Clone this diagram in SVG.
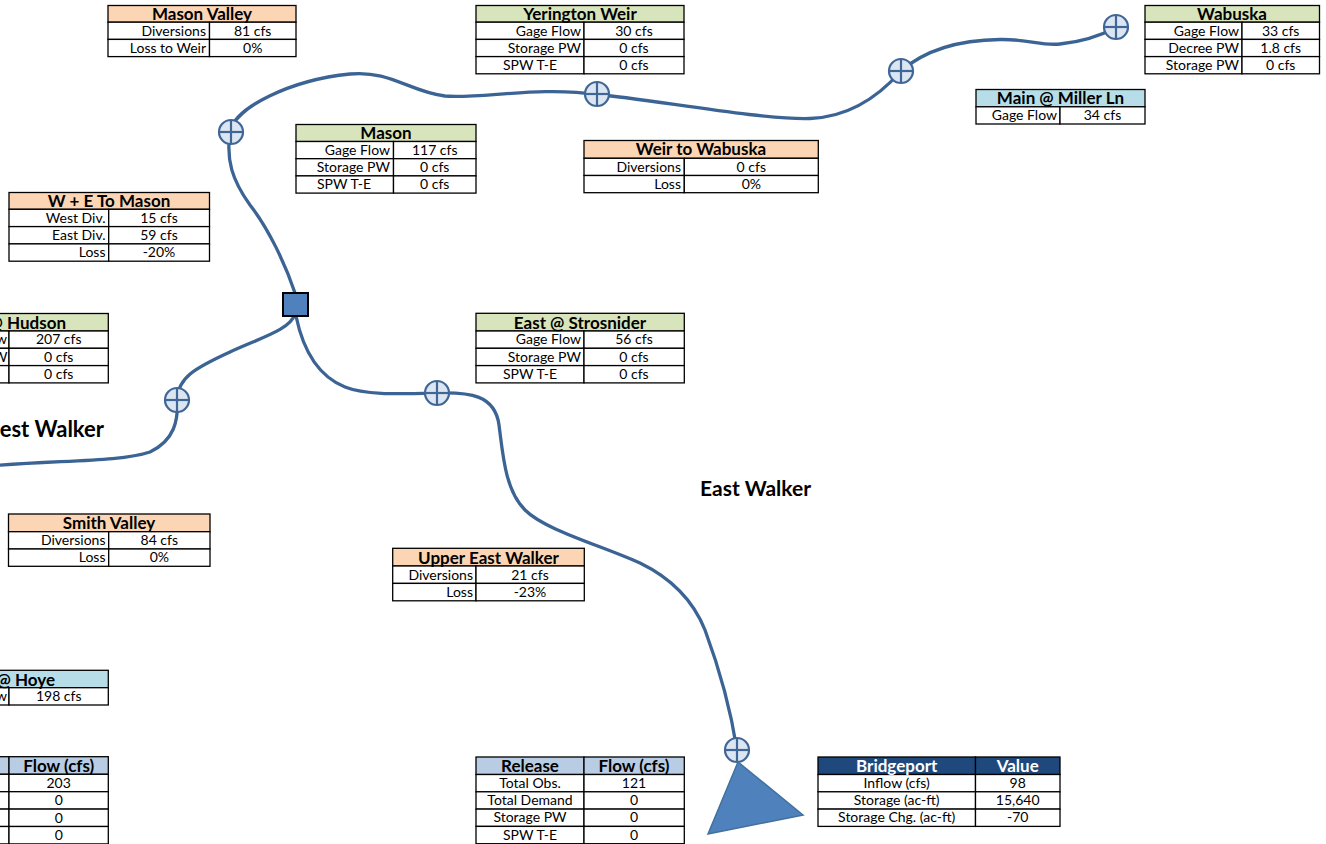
<svg xmlns="http://www.w3.org/2000/svg" width="1326" height="844" viewBox="0 0 1326 844">
<style>
rect{stroke:#000;stroke-width:1.3}
.w{fill:#fff}
.hp{fill:#FCD5B4}
.hg{fill:#D8E4BC}
.hc{fill:#B7DEE8}
.hb{fill:#B8CCE4}
.hd{fill:#1F497D}
text{font-family:Lato,"Liberation Sans",sans-serif;font-size:14px;fill:#000}
.h{font-weight:bold;font-size:17px;text-anchor:middle}
.hw{font-weight:bold;font-size:17px;text-anchor:middle;fill:#fff}
.l{text-anchor:end}
.c{text-anchor:middle}
.big{font-weight:bold;font-size:21px}
.river{fill:none;stroke:#3B6495;stroke-width:3.3;stroke-linecap:round}
</style>
<defs>
<g id="gagesym"><circle cx="0" cy="0" r="12" fill="#DCE6F2" stroke="#3F6696" stroke-width="2.2"/><line x1="-12" y1="0" x2="12" y2="0" stroke="#3F6696" stroke-width="2.2"/><line x1="0" y1="-12" x2="0" y2="12" stroke="#3F6696" stroke-width="2.2"/></g>
</defs>
<rect x="0" y="0" width="1326" height="844" style="fill:#fff;stroke:none"/>

<g id="connectors">
<path class="river" d="M 295 293 C 285 263, 268 228, 250 205 C 232 180, 226 160, 230 132 C 234 108, 290 80, 350 74 C 390 70, 410 92, 445 96 C 480 99, 540 86, 597 94.5 C 650 99, 760 120, 810 118.5 C 850 117, 880 95, 901 71 C 925 50, 960 40, 1000 39.5 C 1030 39, 1040 46, 1060 44 C 1080 42, 1100 36, 1117 27"/>
<path class="river" d="M 295 314 C 290 330, 260 338, 230 352 C 195 368, 177 378, 177.5 400 C 178 420, 175 440, 150 452 C 120 462, 60 460, -10 466"/>
<path class="river" d="M 296 316 C 302 345, 315 375, 345 387 C 365 395, 395 394, 437 393 C 470 392, 495 395, 499 425 C 503 455, 505 490, 525 510 C 545 530, 600 545, 640 563 C 675 580, 695 605, 705 630 C 718 665, 730 705, 737 750"/>
</g>

<g id="gages">
<use href="#gagesym" x="231" y="132"/>
<use href="#gagesym" x="597" y="94"/>
<use href="#gagesym" x="901" y="71"/>
<use href="#gagesym" x="1116" y="27"/>
<use href="#gagesym" x="177" y="400"/>
<use href="#gagesym" x="437" y="393"/>
<use href="#gagesym" x="737" y="750"/>
</g>

<g id="confluence"><rect x="283" y="293" width="25" height="23" style="fill:#4F81BD;stroke:#000;stroke-width:2"/></g>
<g id="bridgeport-reservoir"><polygon points="738,762 803,815 708,834" style="fill:#4F81BD;stroke:#41719C;stroke-width:1.5"/></g>

<g id="label-east-walker"><text class="big" x="700" y="496">East Walker</text></g>
<g id="label-west-walker"><text class="big" x="104" y="437" style="text-anchor:end;font-size:22px">est Walker</text></g>

<g id="mason-valley">
<rect class="hp" x="108" y="5.5" width="188" height="16.7"/>
<rect class="w" x="108" y="22.2" width="101.5" height="17.2"/><rect class="w" x="209.5" y="22.2" width="86.5" height="17.2"/>
<rect class="w" x="108" y="39.4" width="101.5" height="17.2"/><rect class="w" x="209.5" y="39.4" width="86.5" height="17.2"/>
<text class="h" x="202" y="19.5">Mason Valley</text>
<text class="l" x="206" y="35.5">Diversions</text><text class="c" x="252.7" y="35.5">81 cfs</text>
<text class="l" x="206" y="52.7">Loss to Weir</text><text class="c" x="252.7" y="52.7">0%</text>
</g>

<g id="yerington-weir">
<rect class="hg" x="476" y="5.5" width="208" height="16.7"/>
<rect class="w" x="476" y="22.2" width="108" height="17.2"/><rect class="w" x="584" y="22.2" width="100" height="17.2"/>
<rect class="w" x="476" y="39.4" width="108" height="17.2"/><rect class="w" x="584" y="39.4" width="100" height="17.2"/>
<rect class="w" x="476" y="56.6" width="108" height="17.2"/><rect class="w" x="584" y="56.6" width="100" height="17.2"/>
<text class="h" x="580" y="19.5">Yerington Weir</text>
<text class="l" x="581" y="35.5">Gage Flow</text><text class="c" x="634" y="35.5">30 cfs</text>
<text class="l" x="581" y="52.7">Storage PW</text><text class="c" x="634" y="52.7">0 cfs</text>
<text class="c" x="530" y="69.9">SPW T-E</text><text class="c" x="634" y="69.9">0 cfs</text>
</g>

<g id="wabuska">
<rect class="hg" x="1145" y="5.5" width="174.5" height="16.7"/>
<rect class="w" x="1145" y="22.2" width="97" height="17.2"/><rect class="w" x="1242" y="22.2" width="77.5" height="17.2"/>
<rect class="w" x="1145" y="39.4" width="97" height="17.2"/><rect class="w" x="1242" y="39.4" width="77.5" height="17.2"/>
<rect class="w" x="1145" y="56.6" width="97" height="17.2"/><rect class="w" x="1242" y="56.6" width="77.5" height="17.2"/>
<text class="h" x="1232" y="19.5">Wabuska</text>
<text class="l" x="1239" y="35.5">Gage Flow</text><text class="c" x="1280.7" y="35.5">33 cfs</text>
<text class="l" x="1239" y="52.7">Decree PW</text><text class="c" x="1280.7" y="52.7">1.8 cfs</text>
<text class="l" x="1239" y="69.9">Storage PW</text><text class="c" x="1280.7" y="69.9">0 cfs</text>
</g>

<g id="main-miller">
<rect class="hc" x="976" y="89.5" width="169" height="17.3"/>
<rect class="w" x="976" y="106.8" width="84" height="17.2"/><rect class="w" x="1060" y="106.8" width="85" height="17.2"/>
<text class="h" x="1060.5" y="104">Main @ Miller Ln</text>
<text class="l" x="1057" y="120.1">Gage Flow</text><text class="c" x="1102.5" y="120.1">34 cfs</text>
</g>

<g id="mason">
<rect class="hg" x="296" y="124.5" width="180" height="17"/>
<rect class="w" x="296" y="141.5" width="97.5" height="17.2"/><rect class="w" x="393.5" y="141.5" width="82.5" height="17.2"/>
<rect class="w" x="296" y="158.7" width="97.5" height="17.2"/><rect class="w" x="393.5" y="158.7" width="82.5" height="17.2"/>
<rect class="w" x="296" y="175.9" width="97.5" height="17.2"/><rect class="w" x="393.5" y="175.9" width="82.5" height="17.2"/>
<text class="h" x="386" y="139">Mason</text>
<text class="l" x="390" y="154.8">Gage Flow</text><text class="c" x="434.7" y="154.8">117 cfs</text>
<text class="l" x="390" y="172">Storage PW</text><text class="c" x="434.7" y="172">0 cfs</text>
<text class="c" x="344" y="189.2">SPW T-E</text><text class="c" x="434.7" y="189.2">0 cfs</text>
</g>

<g id="weir-to-wabuska">
<rect class="hp" x="584" y="140.5" width="234.3" height="17.8"/>
<rect class="w" x="584" y="158.3" width="100.3" height="17.2"/><rect class="w" x="684.3" y="158.3" width="134" height="17.2"/>
<rect class="w" x="584" y="175.5" width="100.3" height="17.2"/><rect class="w" x="684.3" y="175.5" width="134" height="17.2"/>
<text class="h" x="701" y="155">Weir to Wabuska</text>
<text class="l" x="681" y="171.6">Diversions</text><text class="c" x="751.3" y="171.6">0 cfs</text>
<text class="l" x="681" y="188.8">Loss</text><text class="c" x="751.3" y="188.8">0%</text>
</g>

<g id="w-e-to-mason">
<rect class="hp" x="9" y="192.5" width="200.5" height="16.8"/>
<rect class="w" x="9" y="209.3" width="99.7" height="17.3"/><rect class="w" x="108.7" y="209.3" width="100.8" height="17.3"/>
<rect class="w" x="9" y="226.6" width="99.7" height="17.3"/><rect class="w" x="108.7" y="226.6" width="100.8" height="17.3"/>
<rect class="w" x="9" y="243.9" width="99.7" height="17.3"/><rect class="w" x="108.7" y="243.9" width="100.8" height="17.3"/>
<text class="h" x="109" y="207">W + E To Mason</text>
<text class="l" x="105.5" y="222.6">West Div.</text><text class="c" x="159" y="222.6">15 cfs</text>
<text class="l" x="105.5" y="239.9">East Div.</text><text class="c" x="159" y="239.9">59 cfs</text>
<text class="l" x="105.5" y="257.2">Loss</text><text class="c" x="159" y="257.2">-20%</text>
</g>

<g id="hudson">
<rect class="hg" x="-90" y="313.5" width="198.3" height="17.5"/>
<rect class="w" x="-90" y="331" width="99" height="17.3"/><rect class="w" x="9" y="331" width="99.3" height="17.3"/>
<rect class="w" x="-90" y="348.3" width="99" height="17.3"/><rect class="w" x="9" y="348.3" width="99.3" height="17.3"/>
<rect class="w" x="-90" y="365.6" width="99" height="17.3"/><rect class="w" x="9" y="365.6" width="99.3" height="17.3"/>
<text class="h" x="66" y="328.5" style="text-anchor:end">@ Hudson</text>
<text class="l" x="7" y="344.3">w</text><text class="c" x="58.7" y="344.3">207 cfs</text>
<text class="l" x="7.5" y="361.6">W</text><text class="c" x="58.7" y="361.6">0 cfs</text>
<text class="c" x="58.7" y="378.9">0 cfs</text>
</g>

<g id="east-strosnider">
<rect class="hg" x="476" y="313.3" width="208.3" height="17.7"/>
<rect class="w" x="476" y="331" width="108" height="17.3"/><rect class="w" x="584" y="331" width="100.3" height="17.3"/>
<rect class="w" x="476" y="348.3" width="108" height="17.3"/><rect class="w" x="584" y="348.3" width="100.3" height="17.3"/>
<rect class="w" x="476" y="365.6" width="108" height="17.3"/><rect class="w" x="584" y="365.6" width="100.3" height="17.3"/>
<text class="h" x="580" y="328.5">East @ Strosnider</text>
<text class="l" x="581" y="344.3">Gage Flow</text><text class="c" x="634" y="344.3">56 cfs</text>
<text class="l" x="581" y="361.6">Storage PW</text><text class="c" x="634" y="361.6">0 cfs</text>
<text class="c" x="530" y="378.9">SPW T-E</text><text class="c" x="634" y="378.9">0 cfs</text>
</g>

<g id="smith-valley">
<rect class="hp" x="8.5" y="514" width="201.5" height="17.7"/>
<rect class="w" x="8.5" y="531.7" width="100.2" height="17.3"/><rect class="w" x="108.7" y="531.7" width="101.3" height="17.3"/>
<rect class="w" x="8.5" y="549" width="100.2" height="17.3"/><rect class="w" x="108.7" y="549" width="101.3" height="17.3"/>
<text class="h" x="109" y="529">Smith Valley</text>
<text class="l" x="105.5" y="545">Diversions</text><text class="c" x="159.3" y="545">84 cfs</text>
<text class="l" x="105.5" y="562.3">Loss</text><text class="c" x="159.3" y="562.3">0%</text>
</g>

<g id="upper-east-walker">
<rect class="hp" x="392.7" y="548.3" width="191.6" height="17.7"/>
<rect class="w" x="392.7" y="566" width="83.3" height="17.4"/><rect class="w" x="476" y="566" width="108.3" height="17.4"/>
<rect class="w" x="392.7" y="583.4" width="83.3" height="17.4"/><rect class="w" x="476" y="583.4" width="108.3" height="17.4"/>
<text class="h" x="488.5" y="563.5">Upper East Walker</text>
<text class="l" x="473" y="579.5">Diversions</text><text class="c" x="530" y="579.5">21 cfs</text>
<text class="l" x="473" y="596.8">Loss</text><text class="c" x="530" y="596.8">-23%</text>
</g>

<g id="hoye">
<rect class="hc" x="-90" y="670.3" width="198.3" height="17.4"/>
<rect class="w" x="-90" y="687.7" width="99" height="17.3"/><rect class="w" x="9" y="687.7" width="99.3" height="17.3"/>
<text class="h" x="55" y="685.5" style="text-anchor:end">@ Hoye</text>
<text class="l" x="7" y="701">w</text><text class="c" x="58.7" y="701">198 cfs</text>
</g>

<g id="west-release">
<rect class="hb" x="-90" y="756.7" width="99" height="17.6"/><rect class="hb" x="9" y="756.7" width="99.3" height="17.6"/>
<rect class="w" x="-90" y="774.3" width="99" height="17.4"/><rect class="w" x="9" y="774.3" width="99.3" height="17.4"/>
<rect class="w" x="-90" y="791.7" width="99" height="17.4"/><rect class="w" x="9" y="791.7" width="99.3" height="17.4"/>
<rect class="w" x="-90" y="809.1" width="99" height="17.4"/><rect class="w" x="9" y="809.1" width="99.3" height="17.4"/>
<rect class="w" x="-90" y="826.5" width="99" height="17.4"/><rect class="w" x="9" y="826.5" width="99.3" height="17.4"/>
<text class="h" x="58.7" y="771.5">Flow (cfs)</text>
<text class="c" x="58.7" y="787.8">203</text>
<text class="c" x="58.7" y="805.2">0</text>
<text class="c" x="58.7" y="822.6">0</text>
<text class="c" x="58.7" y="840">0</text>
</g>

<g id="east-release">
<rect class="hb" x="476" y="757" width="108" height="17.5"/><rect class="hb" x="584" y="757" width="100.3" height="17.5"/>
<rect class="w" x="476" y="774.5" width="108" height="17.3"/><rect class="w" x="584" y="774.5" width="100.3" height="17.3"/>
<rect class="w" x="476" y="791.8" width="108" height="17.3"/><rect class="w" x="584" y="791.8" width="100.3" height="17.3"/>
<rect class="w" x="476" y="809.1" width="108" height="17.3"/><rect class="w" x="584" y="809.1" width="100.3" height="17.3"/>
<rect class="w" x="476" y="826.4" width="108" height="17.3"/><rect class="w" x="584" y="826.4" width="100.3" height="17.3"/>
<text class="h" x="530" y="771.5">Release</text><text class="h" x="634" y="771.5">Flow (cfs)</text>
<text class="c" x="530" y="787.8">Total Obs.</text><text class="c" x="634" y="787.8">121</text>
<text class="c" x="530" y="805.1">Total Demand</text><text class="c" x="634" y="805.1">0</text>
<text class="c" x="530" y="822.4">Storage PW</text><text class="c" x="634" y="822.4">0</text>
<text class="c" x="530" y="839.7">SPW T-E</text><text class="c" x="634" y="839.7">0</text>
</g>

<g id="bridgeport">
<rect class="hd" x="818" y="757" width="157.5" height="17.5"/><rect class="hd" x="975.5" y="757" width="84.5" height="17.5"/>
<rect class="w" x="818" y="774.5" width="157.5" height="17.3"/><rect class="w" x="975.5" y="774.5" width="84.5" height="17.3"/>
<rect class="w" x="818" y="791.8" width="157.5" height="17.3"/><rect class="w" x="975.5" y="791.8" width="84.5" height="17.3"/>
<rect class="w" x="818" y="809.1" width="157.5" height="17.3"/><rect class="w" x="975.5" y="809.1" width="84.5" height="17.3"/>
<text class="hw" x="896.7" y="771.5">Bridgeport</text><text class="hw" x="1017.7" y="771.5">Value</text>
<text class="c" x="896.7" y="787.8">Inflow (cfs)</text><text class="c" x="1017.7" y="787.8">98</text>
<text class="c" x="896.7" y="805.1">Storage (ac-ft)</text><text class="c" x="1017.7" y="805.1">15,640</text>
<text class="c" x="896.7" y="822.4">Storage Chg. (ac-ft)</text><text class="c" x="1017.7" y="822.4">-70</text>
</g>
</svg>
